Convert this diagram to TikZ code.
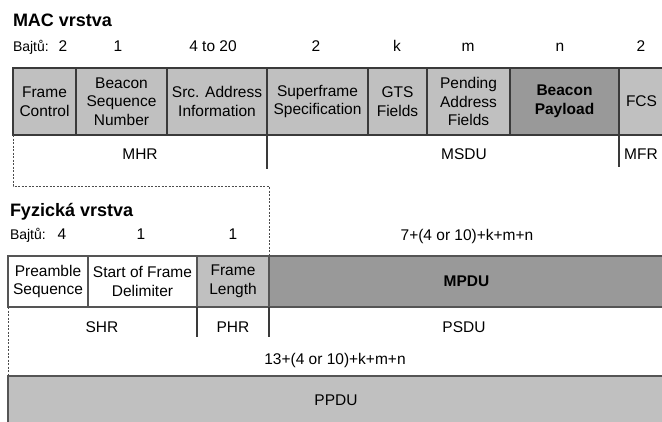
\documentclass[tikz,border=0pt]{standalone}
\usepackage{fontspec}
\setmainfont{Liberation Sans}
\definecolor{lg}{HTML}{C0C0C0}
\definecolor{dg}{HTML}{999999}
\definecolor{linec}{HTML}{3A3A3A}
\definecolor{linep}{HTML}{555555}
\begin{document}
\begin{tikzpicture}[x=1pt,y=-1pt,
  every node/.style={font=\fontsize{15.5}{18.5}\selectfont, inner sep=0pt, outer sep=0pt},
  cell/.style={draw=linec, line width=1.2pt, align=center},
  pcell/.style={draw=linep, line width=1.4pt, align=center},
  title/.style={font=\fontsize{18}{20}\selectfont\bfseries, anchor=base west},
  bajt/.style={font=\fontsize{14}{16}\selectfont, anchor=base west},
  num/.style={anchor=base},
  lab/.style={anchor=base},
  sep/.style={draw=linec, line width=1.2pt},
  dsh/.style={draw=black!70, line width=0.8pt, dash pattern=on 2pt off 1.5pt}]
\useasboundingbox (0,0) rectangle (662,421);

% MAC layer
\node[title] (mact) at (13,26) {MAC vrstva};
\node[bajt] (macb) at (13,51) {Bajtů:};
\node[num] (n1) at (63,51) {2};
\node[num] (n2) at (118,51) {1};
\node[num] (n3) at (213,51) {4 to 20};
\node[num] (n4) at (316,51) {2};
\node[num] (n5) at (397,51) {k};
\node[num] (n6) at (468,51) {m};
\node[num] (n7) at (560,51) {n};
\node[num] (n8) at (641,51) {2};

\node[cell, fill=lg, minimum width=63, minimum height=67] (fc) at (44.5,101.5) {Frame\\Control};
\node[cell, fill=lg, minimum width=91, minimum height=67] (bsn) at (121.5,101.5) {Beacon\\Sequence\\Number};
\node[cell, fill=lg, minimum width=100, minimum height=67] (src) at (217,101.5) {Src. Address\\Information};
\node[cell, fill=lg, minimum width=101, minimum height=67] (sf) at (317.5,101.5) {Superframe\\Specification};
\node[cell, fill=lg, minimum width=59, minimum height=67] (gts) at (397.5,101.5) {GTS\\Fields};
\node[cell, fill=lg, minimum width=83, minimum height=67] (pend) at (468.5,101.5) {Pending\\Address\\Fields};
\node[cell, fill=dg, minimum width=109, minimum height=67, font=\fontsize{15.5}{18.5}\selectfont\bfseries] (bp) at (564.5,101.5) {Beacon\\Payload};
\node[cell, fill=lg, minimum width=45, minimum height=67] (fcs) at (641.5,101.5) {FCS};

\draw[sep] (sf.south west) -- ++(0,34);
\draw[sep] (fcs.south west) -- ++(0,32);
\node[lab] (mhr) at (140,159) {MHR};
\node[lab] (msdu) at (464,159) {MSDU};
\node[lab] (mfr) at (641,159) {MFR};

% PHY layer
\node[title] (phyt) at (10,216) {Fyzická vrstva};
\node[bajt] (phyb) at (10,239) {Bajtů:};
\node[num] (p1) at (62,239) {4};
\node[num] (p2) at (141,239) {1};
\node[num] (p3) at (233,239) {1};
\node[num] (p4) at (467,240) {7+(4 or 10)+k+m+n};

\node[pcell, fill=white, minimum width=80, minimum height=51] (pre) at (48,281.5) {Preamble\\Sequence};
\node[pcell, fill=white, minimum width=109, minimum height=51] (sfd) at (142.5,281.5) {Start of Frame\\Delimiter};
\node[pcell, fill=lg, minimum width=72, minimum height=51] (fl) at (233,281.5) {Frame\\Length};
\node[pcell, fill=dg, minimum width=395, minimum height=51, font=\fontsize{15.5}{18.5}\selectfont\bfseries] (mpdu) at (466.5,281.5) {MPDU};

\draw[sep] (fl.south west) -- ++(0,30);
\draw[sep] (fl.south east) -- ++(0,30);
\node[lab] (shr) at (102,332) {SHR};
\node[lab] (phr) at (233,332) {PHR};
\node[lab] (psdu) at (464,332) {PSDU};
\node[lab] (tot) at (335,364) {13+(4 or 10)+k+m+n};

\node[pcell, fill=lg, minimum width=656, minimum height=48] (ppdu) at (336,400) {PPDU};

% dashed connectors
\draw[dsh] (fc.south west) -- ++(0,51) -| (fl.north east);
\draw[dsh] (pre.south west) -- (ppdu.north west);
\end{tikzpicture}
\end{document}
